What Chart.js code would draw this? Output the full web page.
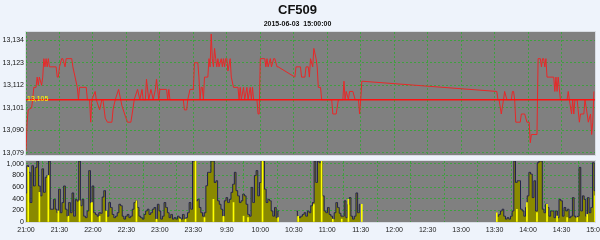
<!DOCTYPE html>
<html>
<head>
<meta charset="utf-8">
<script src="https://cdn.jsdelivr.net/npm/chart.js@4.4.0/dist/chart.umd.min.js"></script>
<style>
    html, body { margin: 0; padding: 0; background: #eef3fb; }
    #wrap { position: relative; width: 600px; height: 240px; overflow: hidden; }
    #priceChart { position: absolute; left: 0; top: 0; }
    #volChart { position: absolute; left: 0; top: 157px; }
</style>
</head>
<body>
<div id="wrap">
    <canvas id="priceChart" width="600" height="157"></canvas>
    <canvas id="volChart" width="600" height="83"></canvas>
</div>
<script>
// 時間軸：以分鐘計，夜盤 21:00-23:30 接日盤 9:00-15:00，每 30 分鐘一個刻度
const tickMinutes = [0, 30, 60, 90, 120, 150, 180, 210, 240, 270, 300, 330, 360, 390, 420, 450, 480, 510];
const tickLabels = ['21:00', '21:30', '22:00', '22:30', '23:00', '23:30', '9:30', '10:00', '10:30',
    '11:00', '11:30', '12:00', '12:30', '13:00', '13:30', '14:00', '14:30', '15:00'];

const priceTicks = [13079, 13090, 13101, 13112, 13123, 13134];
const volTicks = [0, 200, 400, 600, 800, 1000];
const refPrice = 13105;

// 分時價格
const priceMinutes = [0, 1, 2, 5, 6, 7, 9, 10, 11, 12, 14, 15, 16, 17, 18, 19, 20, 21, 27, 28, 29, 30, 32, 33, 35, 36,
    41, 42, 44, 46, 47, 48, 54, 55, 57, 58, 59, 62, 63, 66, 68, 69, 71, 73, 77, 78, 80, 83, 86, 89, 91, 94, 96, 97,
    100, 102, 104, 105, 107, 108, 110, 112, 114, 116, 117, 119, 120, 126, 127, 128, 129, 141, 142, 144, 145, 147,
    150, 151, 154, 155, 156, 157, 158, 159, 160, 163, 164, 165, 166, 167, 168, 169, 170, 171, 172, 173, 175, 176,
    177, 178, 179, 180, 181, 183, 184, 186, 190, 191, 192, 193, 195, 196, 198, 199, 201, 202, 203, 204, 207, 208,
    209, 210, 214, 215, 216, 217, 219, 220, 222, 223, 225, 226, 241, 242, 246, 247, 250, 251, 253, 254, 255, 257,
    258, 260, 261, 262, 264, 265, 274, 275, 278, 280, 284, 285, 286, 287, 289, 290, 293, 295, 298, 299, 300, 301,
    422, 423, 424, 426, 428, 429, 431, 435, 436, 437, 438, 439, 443, 444, 447, 449, 451, 452, 453, 458, 459, 461,
    462, 463, 464, 465, 466, 467, 473, 474, 475, 476, 477, 479, 485, 486, 487, 489, 490, 491, 492, 494, 496, 497,
    500, 501, 503, 504, 506, 507, 508, 509];
const priceValues = [13080, 13094, 13100, 13101, 13105, 13111, 13111, 13116, 13112, 13116, 13112, 13116, 13125,
    13121, 13125, 13121, 13125, 13121, 13121, 13116, 13116, 13121, 13125, 13125, 13121, 13125, 13125, 13121, 13116,
    13111, 13105, 13111, 13111, 13105, 13105, 13094, 13105, 13109, 13105, 13100, 13105, 13105, 13096, 13094, 13094,
    13100, 13105, 13110, 13102, 13097, 13094, 13094, 13101, 13105, 13110, 13105, 13110, 13105, 13105, 13115, 13105,
    13110, 13105, 13110, 13115, 13105, 13110, 13110, 13105, 13110, 13105, 13105, 13100, 13100, 13105, 13110, 13110,
    13123, 13123, 13116, 13105, 13111, 13111, 13105, 13116, 13116, 13125, 13121, 13137, 13125, 13121, 13130, 13125,
    13121, 13125, 13121, 13125, 13121, 13125, 13121, 13125, 13125, 13119, 13125, 13116, 13111, 13111, 13105, 13111,
    13105, 13111, 13105, 13111, 13105, 13111, 13105, 13111, 13105, 13105, 13098, 13098, 13125, 13125, 13121, 13125,
    13121, 13125, 13121, 13125, 13125, 13121, 13121, 13116, 13121, 13121, 13116, 13116, 13121, 13121, 13116, 13125,
    13121, 13130, 13125, 13121, 13111, 13111, 13105, 13105, 13098, 13098, 13105, 13105, 13114, 13105, 13109, 13105,
    13109, 13109, 13105, 13105, 13098, 13105, 13114, 13109, 13105, 13105, 13098, 13105, 13109, 13105, 13105, 13109,
    13109, 13105, 13094, 13094, 13098, 13098, 13094, 13094, 13084, 13088, 13088, 13125, 13125, 13121, 13125, 13125,
    13121, 13125, 13116, 13116, 13109, 13116, 13109, 13116, 13105, 13105, 13109, 13105, 13098, 13105, 13098, 13105,
    13105, 13094, 13098, 13098, 13105, 13098, 13094, 13098, 13088, 13094, 13109];

// 成交量：每 1.5 分鐘一格，分三段（10:15-10:30 及午休無成交）
const volStep = 1.5;
const volNightStart = 0;
const volNight = [500, 970, 855, 335, 970, 620, 940, 1050, 620, 450, 915, 510, 770, 800, 1050, 220, 220, 390, 220,
    160, 565, 160, 335, 620, 220, 100, 335, 160, 500, 100, 390, 360, 1050, 280, 390, 100, 75, 190, 885, 335, 620,
    160, 130, 100, 160, 150, 430, 540, 190, 100, 335, 250, 130, 75, 100, 160, 305, 280, 100, 50, 100, 130, 75, 100,
    220, 335, 365, 250, 100, 75, 50, 130, 190, 220, 130, 160, 220, 250, 50, 305, 190, 50, 100, 335, 250, 160, 75,
    130, 50, 75, 50, 100, 75, 50, 130, 50, 75, 160, 335, 220, 1050, 1050, 365, 390, 250, 160, 100, 160, 625, 855,
    855, 1050, 1050, 680, 710, 365, 305, 220, 100, 365, 420, 335, 390, 510, 650, 855, 540, 450, 335, 365, 480, 450,
    305, 130, 100, 595, 335, 800, 885, 450, 680, 1050, 1050, 565, 335, 390, 365, 190, 100, 250, 75, 190];
const volMidStart = 242.5;
const volMid = [190, 100, 75, 100, 130, 160, 100, 190, 160, 280, 335, 1050, 680, 1050, 1020, 1050, 450, 190, 160,
    250, 130, 100, 50, 160, 335, 250, 150, 100, 100, 365, 75, 300, 420, 100, 50, 100, 500, 160, 305];
const volPmStart = 421.5;
const volPm = [160, 100, 130, 190, 220, 100, 50, 75, 50, 100, 190, 1050, 680, 710, 710, 220, 190, 100, 250, 450,
    855, 825, 420, 710, 190, 1020, 1050, 1050, 220, 160, 305, 250, 100, 190, 190, 75, 190, 75, 390, 365, 100, 250,
    190, 220, 75, 100, 420, 100, 75, 100, 940, 190, 450, 390, 100, 420, 160, 250, 1020, 540];

// 黃色量柱
const upMinutes = [2, 12, 20, 29, 38, 48, 59, 66, 72, 99, 117, 138, 143, 152, 160, 168, 177, 186, 195, 199, 212,
    226, 244, 258, 265, 275, 283, 289, 301, 422, 440, 449, 458, 467, 476, 485, 494, 503, 510];
const upVolumes = [940, 510, 800, 190, 100, 365, 335, 100, 190, 365, 50, 50, 50, 1050, 75, 390, 100, 335, 100, 75,
    1050, 75, 100, 300, 1050, 50, 50, 390, 305, 160, 220, 335, 160, 305, 100, 75, 75, 130, 450];

const FONT = '"Liberation Sans", Arial, sans-serif';
Chart.defaults.font.family = FONT;
Chart.defaults.color = '#111';

function toPoints(xs, ys) {
    return xs.map((x, i) => ({ x: x, y: ys[i] }));
}

function volPoints(start, values) {
    return values.map((v, i) => ({ x: start + i * volStep, y: v }));
}

// 灰色繪圖區與邊框
const plotBg = {
    id: 'plotBg',
    beforeDraw(chart) {
        const { ctx, chartArea: a } = chart;
        ctx.save();
        ctx.fillStyle = '#808080';
        ctx.fillRect(a.left, a.top, a.right - a.left, a.bottom - a.top);
        ctx.restore();
    },
    afterDraw(chart) {
        const { ctx, chartArea: a } = chart;
        ctx.save();
        ctx.strokeStyle = '#d8dde4';
        ctx.lineWidth = 1;
        ctx.strokeRect(a.left - 0.5, a.top - 0.5, a.right - a.left + 1, a.bottom - a.top + 1);
        ctx.restore();
    }
};

// 參考價標籤
const refLabel = {
    id: 'refLabel',
    afterDatasetsDraw(chart) {
        const { ctx, chartArea: a, scales } = chart;
        const y = scales.y.getPixelForValue(refPrice);
        ctx.save();
        ctx.fillStyle = '#ffff00';
        ctx.font = '7px ' + FONT;
        ctx.textBaseline = 'alphabetic';
        ctx.textAlign = 'left';
        ctx.fillText(refPrice.toLocaleString('en-US'), a.left + 1, y + 1.5);
        ctx.restore();
    }
};

const gridOpts = { color: '#3f9f3f', lineWidth: 1, drawTicks: false };
const borderOpts = { display: false, dash: [2, 2] };

function xScale(showLabels) {
    return {
        type: 'linear',
        min: 0,
        max: 510,
        offset: false,
        grid: gridOpts,
        border: borderOpts,
        afterBuildTicks: (s) => { s.ticks = tickMinutes.map(v => ({ value: v })); },
        afterFit: (s) => {
            s.height = showLabels ? 18 : 0;
            s.paddingLeft = 0;
            s.paddingRight = 0;
        },
        ticks: {
            display: showLabels,
            autoSkip: false,
            maxRotation: 0,
            padding: 4,
            font: { size: 7 },
            color: '#222',
            callback: (v) => tickLabels[tickMinutes.indexOf(v)]
        }
    };
}

function yScale(min, max, tickValues) {
    return {
        min: min,
        max: max,
        grid: gridOpts,
        border: borderOpts,
        afterBuildTicks: (s) => { s.ticks = tickValues.map(v => ({ value: v })); },
        afterFit: (s) => {
            s.width = 26;
            s.paddingTop = 0;
            s.paddingBottom = 0;
        },
        ticks: {
            padding: 2,
            autoSkip: false,
            font: { size: 7 },
            color: '#111',
            callback: (v) => v.toLocaleString('en-US')
        }
    };
}

new Chart(document.getElementById('priceChart'), {
    type: 'line',
    data: {
        datasets: [{
            data: [{ x: 0, y: refPrice }, { x: 510, y: refPrice }],
            borderColor: '#ff1010',
            borderWidth: 1.5,
            pointRadius: 0,
            order: 0
        }, {
            data: toPoints(priceMinutes, priceValues),
            borderColor: '#e82828',
            borderWidth: 1,
            pointRadius: 0,
            tension: 0,
            order: 1
        }]
    },
    options: {
        responsive: false,
        animation: false,
        layout: { padding: { left: 0, right: 5, top: 0, bottom: 2 } },
        plugins: {
            legend: { display: false },
            tooltip: { enabled: false },
            title: {
                display: true,
                text: 'CF509',
                color: '#111',
                font: { size: 13, weight: 'bold' },
                padding: { top: 3, bottom: 0 }
            },
            subtitle: {
                display: true,
                text: '2015-06-03  15:00:00',
                color: '#111',
                font: { size: 7, weight: 'bold' },
                padding: { top: 1, bottom: 4 }
            }
        },
        scales: {
            x: xScale(false),
            y: yScale(13078, 13138, priceTicks)
        }
    },
    plugins: [plotBg, refLabel]
});

const volStyle = {
    type: 'line',
    stepped: 'middle',
    fill: 'origin',
    backgroundColor: '#8a8a00',
    borderColor: '#22224e',
    borderWidth: 1,
    pointRadius: 0,
    order: 1
};

new Chart(document.getElementById('volChart'), {
    type: 'line',
    data: {
        datasets: [{
            type: 'bar',
            data: toPoints(upMinutes, upVolumes),
            backgroundColor: '#ffff00',
            barThickness: 1,
            grouped: false,
            order: 0
        },
        { ...volStyle, data: volPoints(volNightStart, volNight) },
        { ...volStyle, data: volPoints(volMidStart, volMid) },
        { ...volStyle, data: volPoints(volPmStart, volPm) }]
    },
    options: {
        responsive: false,
        animation: false,
        layout: { padding: { left: 0, right: 5, top: 4, bottom: 0 } },
        plugins: {
            legend: { display: false },
            tooltip: { enabled: false }
        },
        scales: {
            x: xScale(true),
            y: yScale(0, 1050, volTicks)
        }
    },
    plugins: [plotBg]
});
</script>
</body>
</html>
